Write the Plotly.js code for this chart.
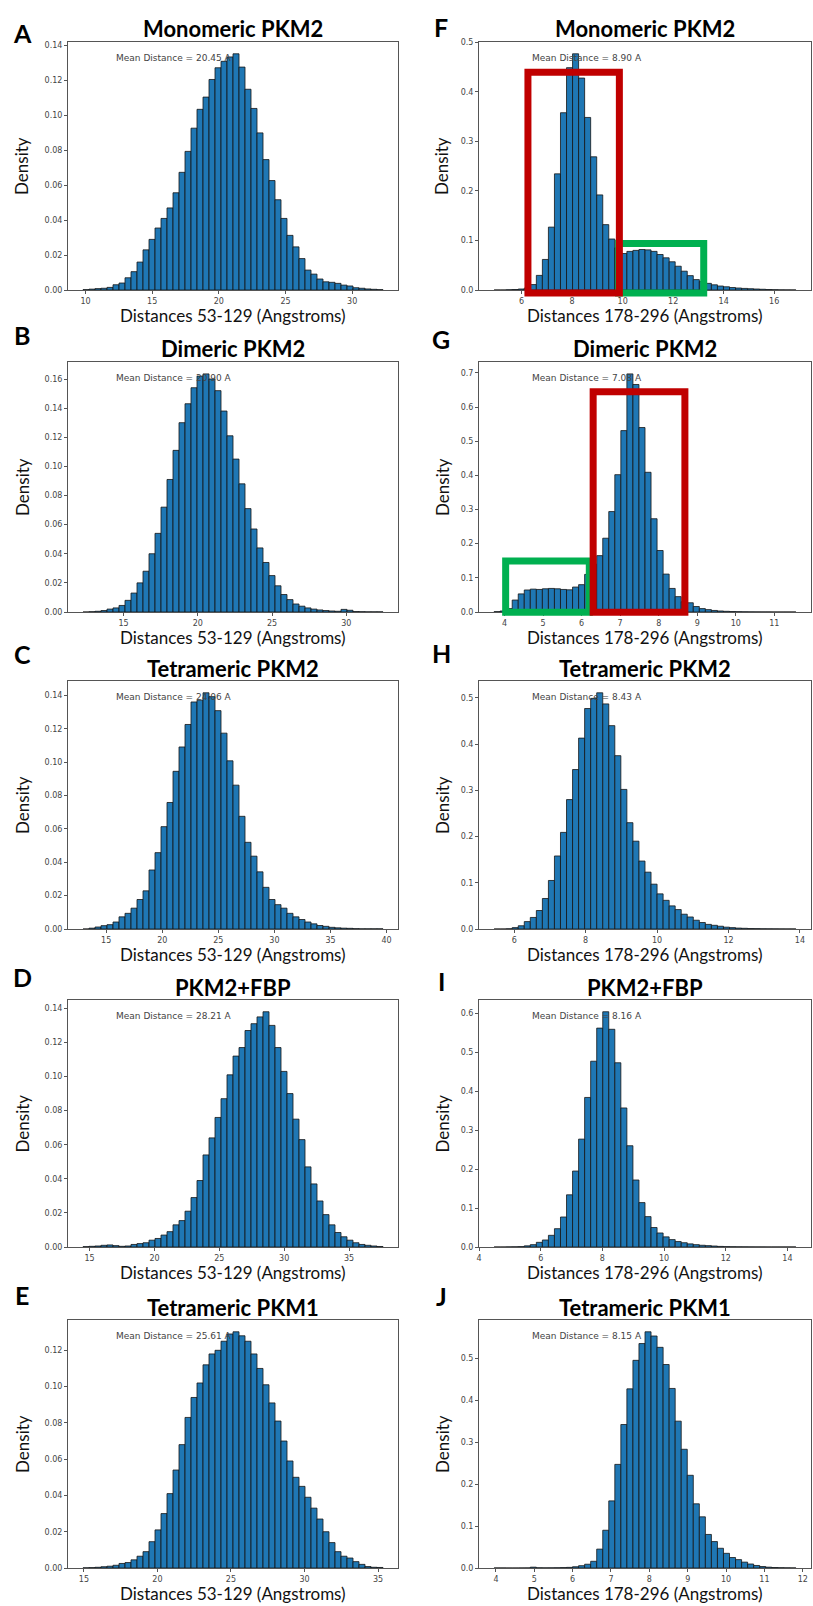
<!DOCTYPE html>
<html><head><meta charset="utf-8">
<script src="https://cdn.plot.ly/plotly-3.0.1.min.js"></script>
<style>html,body{margin:0;padding:0;background:#fff}#chart{width:813px;height:1606px}</style>
</head><body><div id="chart"></div>
<script>
// ---------------- data ----------------
const panelLetters = ['A','B','C','D','E','F','G','H','I','J'];
const panelTitles = ['Monomeric PKM2','Dimeric PKM2','Tetrameric PKM2','PKM2+FBP','Tetrameric PKM1',
                     'Monomeric PKM2','Dimeric PKM2','Tetrameric PKM2','PKM2+FBP','Tetrameric PKM1'];
const xTitles = ['Distances 53-129 (Angstroms)','Distances 53-129 (Angstroms)','Distances 53-129 (Angstroms)',
                 'Distances 53-129 (Angstroms)','Distances 53-129 (Angstroms)',
                 'Distances 178-296 (Angstroms)','Distances 178-296 (Angstroms)','Distances 178-296 (Angstroms)',
                 'Distances 178-296 (Angstroms)','Distances 178-296 (Angstroms)'];
const meanLabels = ['Mean Distance = 20.45 A','Mean Distance = 20.90 A','Mean Distance = 24.06 A',
                    'Mean Distance = 28.21 A','Mean Distance = 25.61 A','Mean Distance = 8.90 A',
                    'Mean Distance = 7.08 A','Mean Distance = 8.43 A','Mean Distance = 8.16 A',
                    'Mean Distance = 8.15 A'];
// histogram bins (50 bins per panel): first bin edge and bin width
const binStarts = [9.81, 12.27, 12.93, 14.49, 14.94, 4.91, 3.73, 5.437, 4.489, 3.952];
const binWidths = [0.45, 0.404, 0.535, 0.4626, 0.408, 0.239, 0.1566, 0.169, 0.1957, 0.1574];

const densA = [0.0002,0.0005,0.0008,0.001,0.0015,0.003,0.004,0.007,0.0105,0.016,
  0.023,0.029,0.0355,0.041,0.047,0.0557,0.0674,0.0794,0.0927,0.1035,
  0.1105,0.1206,0.1273,0.131,0.1335,0.1353,0.1277,0.115,0.104,0.090,
  0.0747,0.0627,0.0517,0.041,0.0313,0.0247,0.018,0.0114,0.0091,0.0063,
  0.0047,0.0044,0.0038,0.0028,0.0023,0.0013,0.001,0.0006,0.0004,0.0002];
const densB = [0,0.0002,0.0005,0.001,0.002,0.0028,0.0045,0.008,0.013,0.02,
  0.028,0.04,0.054,0.072,0.091,0.111,0.13,0.143,0.154,0.162,
  0.1635,0.16,0.152,0.138,0.121,0.105,0.088,0.071,0.057,0.044,
  0.034,0.025,0.018,0.012,0.0085,0.0055,0.004,0.0028,0.002,0.0014,
  0.001,0.0007,0.0005,0.0018,0.0012,0.0003,0.0002,0.0001,0.0001,0.0001];
const densC = [0,0.0005,0.0012,0.002,0.0026,0.0042,0.0073,0.0094,0.0125,0.0177,
  0.0229,0.0354,0.0458,0.0614,0.0759,0.0946,0.1092,0.1227,0.1362,0.1373,
  0.1417,0.1394,0.131,0.1175,0.1009,0.0863,0.0676,0.052,0.0437,0.0343,
  0.025,0.0177,0.0146,0.0125,0.0094,0.0073,0.0057,0.0042,0.0031,0.0021,
  0.0016,0.001,0.0007,0.0005,0.0004,0.0002,0.0001,0.0001,0.0001,0.0001];
const densD = [0.0002,0.0004,0.0006,0.001,0.0012,0.0008,0.0004,0.0006,0.0015,0.002,
  0.0025,0.004,0.005,0.007,0.009,0.013,0.0155,0.021,0.029,0.039,
  0.054,0.064,0.076,0.087,0.101,0.112,0.117,0.127,0.131,0.135,
  0.138,0.13,0.117,0.103,0.09,0.075,0.063,0.047,0.037,0.027,
  0.019,0.013,0.0085,0.006,0.004,0.0025,0.0015,0.001,0.0006,0.0003];
const densE = [0.0001,0.0002,0.0004,0.0007,0.001,0.0015,0.0025,0.003,0.0045,0.0065,
  0.009,0.0145,0.021,0.03,0.041,0.054,0.068,0.083,0.094,0.102,
  0.112,0.118,0.12,0.125,0.129,0.1302,0.128,0.125,0.118,0.11,
  0.101,0.091,0.081,0.07,0.059,0.05,0.045,0.039,0.033,0.027,
  0.02,0.014,0.009,0.0065,0.0055,0.0035,0.002,0.0008,0.0004,0.0003];
const densF = [0,0,0.0005,0.001,0.002,0.004,0.011,0.0295,0.0617,0.127,
  0.2346,0.358,0.449,0.477,0.428,0.3485,0.269,0.192,0.132,0.103,
  0.085,0.0737,0.078,0.08,0.0818,0.081,0.078,0.0717,0.065,0.057,
  0.048,0.038,0.029,0.021,0.017,0.0134,0.0105,0.008,0.0065,0.005,
  0.004,0.0032,0.0026,0.002,0.0015,0.001,0.0006,0.0003,0.0002,0.0001];
const densG = [0.001,0.003,0.01,0.035,0.053,0.0645,0.067,0.066,0.068,0.069,
  0.068,0.066,0.065,0.073,0.08,0.11,0.14,0.165,0.216,0.294,
  0.402,0.531,0.697,0.666,0.54,0.409,0.273,0.18,0.111,0.069,
  0.045,0.03,0.027,0.016,0.01,0.007,0.0045,0.003,0.002,0.0013,
  0.0009,0.0006,0.0004,0.0003,0.0002,0.0002,0.0001,0.0001,0.0001,0.0001];
const densH = [0,0,0.0005,0.003,0.007,0.016,0.025,0.04,0.066,0.105,
  0.158,0.209,0.28,0.345,0.413,0.477,0.499,0.511,0.487,0.44,
  0.375,0.302,0.23,0.19,0.147,0.123,0.097,0.076,0.062,0.05,
  0.042,0.032,0.026,0.019,0.014,0.01,0.008,0.006,0.004,0.003,
  0.002,0.0015,0.001,0.0008,0.0005,0.0004,0.0003,0.0002,0.0001,0.0001];
const densI = [0,0,0.0003,0.0005,0.001,0.003,0.006,0.012,0.018,0.03,
  0.047,0.077,0.134,0.195,0.277,0.384,0.477,0.562,0.604,0.559,
  0.473,0.357,0.26,0.172,0.114,0.078,0.05,0.036,0.026,0.019,
  0.014,0.011,0.008,0.006,0.0045,0.0035,0.0025,0.0015,0.001,0.0007,
  0.0005,0.0004,0.0003,0.0002,0.0002,0.0001,0.0001,0.0001,0.0001,0.0001];
const densJ = [0.0001,0.0001,0,0,0.0001,0.0002,0.002,0.0005,0.0003,0.0004,
  0.0006,0.001,0.0015,0.003,0.0055,0.009,0.016,0.045,0.09,0.16,
  0.247,0.342,0.427,0.495,0.535,0.563,0.553,0.526,0.485,0.428,
  0.35,0.283,0.221,0.153,0.122,0.08,0.063,0.047,0.035,0.025,
  0.02,0.014,0.0095,0.006,0.0035,0.002,0.0012,0.0007,0.0004,0.0002];
const densities = [densA,densB,densC,densD,densE,densF,densG,densH,densI,densJ];

const xDticks = [5,5,5,5,5,2,1,2,2,1];
const yDticks = [0.02,0.02,0.02,0.02,0.02,0.1,0.1,0.1,0.1,0.1];
const yFormats = ['.2f','.2f','.2f','.2f','.2f','.1f','.1f','.1f','.1f','.1f'];

// highlight boxes (panel index, data-space x0,x1,y0,y1, colour)
const boxPanels = [5, 5, 6, 6];
const boxX0 = [9.84, 6.25, 4.03, 6.30];
const boxX1 = [13.21, 9.87, 6.20, 8.68];
const boxY0 = [-0.006, -0.006, -0.001, -0.001];
const boxY1 = [0.0938, 0.44, 0.1496, 0.645];
const boxColors = ['#00B050', '#C00000', '#00B050', '#C00000'];

// ---------------- layout geometry (pixels) ----------------
const W = 813, H = 1606;
const rowTop = [42, 362, 681, 1000, 1320];
const rowBot = [290, 612, 929, 1247, 1568];
const colLeft = [68, 479], colRight = [398, 811];
const letterX = [22, 441];
const letterY = [[33, 335, 654, 977, 1295], [27, 339, 653, 981, 1296]];
const meanX = [0.142, 0.158];

const px = v => v / W;
const py = v => 1 - v / H;

const traces = [];
const layout = {
  width: W, height: H, margin: {l: 0, r: 0, t: 0, b: 0},
  paper_bgcolor: '#fff', plot_bgcolor: '#fff',
  showlegend: false, bargap: 0, hovermode: false,
  annotations: [], shapes: []
};
const ranges = [];

for (let i = 0; i < 10; i++) {
  const col = i < 5 ? 0 : 1, row = i % 5;
  const sfx = i === 0 ? '' : String(i + 1);
  const xa = 'x' + sfx, ya = 'y' + sfx;
  const dens = densities[i];
  const w = binWidths[i], s = binStarts[i];
  const xs = dens.map((_, k) => s + (k + 0.5) * w);
  traces.push({
    type: 'bar', x: xs, y: dens, width: w, xaxis: xa, yaxis: ya,
    marker: {color: '#1f77b4', line: {color: '#151515', width: 0.8}}
  });
  const span = w * dens.length;
  const xr = [s - 0.05 * span, s + 1.05 * span];
  const yr = [0, 1.05 * Math.max(...dens)];
  ranges.push({xr, yr});
  const axCommon = {
    showline: true, mirror: true, linecolor: '#555', linewidth: 1,
    showgrid: false, zeroline: false, ticks: 'outside', ticklen: 3, tickcolor: '#555',
    tickfont: {family: 'DejaVu Sans', size: 8, color: '#444'}
  };
  layout['xaxis' + sfx] = Object.assign({}, axCommon, {
    domain: [px(colLeft[col]), px(colRight[col])], anchor: ya, range: xr,
    dtick: xDticks[i], tick0: 0
  });
  layout['yaxis' + sfx] = Object.assign({}, axCommon, {
    domain: [py(rowBot[row]), py(rowTop[row])], anchor: xa, range: yr,
    dtick: yDticks[i], tick0: 0, tickformat: yFormats[i]
  });
  const cx = (colLeft[col] + colRight[col]) / 2;
  const cy = (rowTop[row] + rowBot[row]) / 2;
  // panel title
  layout.annotations.push({text: '<b>' + panelTitles[i] + '</b>', xref: 'paper', yref: 'paper',
    x: px(cx), y: py(rowTop[row] - 13), xanchor: 'center', yanchor: 'middle', showarrow: false,
    borderpad: 0, font: {family: 'Lato', size: 22, color: '#000'}});
  // panel letter
  layout.annotations.push({text: '<b>' + panelLetters[i] + '</b>', xref: 'paper', yref: 'paper',
    x: px(letterX[col]), y: py(letterY[col][row]), xanchor: 'center', yanchor: 'middle', showarrow: false,
    borderpad: 0, font: {family: 'Lato', size: 25, color: '#000'}});
  // x title
  layout.annotations.push({text: xTitles[i], xref: 'paper', yref: 'paper',
    x: px(cx), y: py(rowBot[row] + 14), xanchor: 'center', yanchor: 'top', showarrow: false,
    borderpad: 0, font: {family: 'Lato', size: 17, color: '#111'}});
  // y title
  layout.annotations.push({text: 'Density', xref: 'paper', yref: 'paper', textangle: -90,
    x: px(col ? 442 : 22), y: py(cy), xanchor: 'center', yanchor: 'middle', showarrow: false,
    borderpad: 0, font: {family: 'Lato', size: 17, color: '#111'}});
  // mean label
  layout.annotations.push({text: meanLabels[i], xref: xa + ' domain', yref: ya + ' domain',
    x: meanX[col], y: 0.937, xanchor: 'left', yanchor: 'middle', showarrow: false,
    borderpad: 0, font: {family: 'DejaVu Sans', size: 9, color: '#444'}});
}

for (let b = 0; b < boxPanels.length; b++) {
  const i = boxPanels[b];
  const sfx = i === 0 ? '' : String(i + 1);
  const {xr, yr} = ranges[i];
  const fx = v => (v - xr[0]) / (xr[1] - xr[0]);
  const fy = v => (v - yr[0]) / (yr[1] - yr[0]);
  layout.shapes.push({type: 'rect', layer: 'above',
    xref: 'x' + sfx + ' domain', yref: 'y' + sfx + ' domain',
    x0: fx(boxX0[b]), x1: fx(boxX1[b]), y0: fy(boxY0[b]), y1: fy(boxY1[b]),
    line: {color: boxColors[b], width: 7}, fillcolor: 'rgba(0,0,0,0)'});
}

Plotly.newPlot('chart', traces, layout, {staticPlot: true, displayModeBar: false});
</script>
</body></html>
